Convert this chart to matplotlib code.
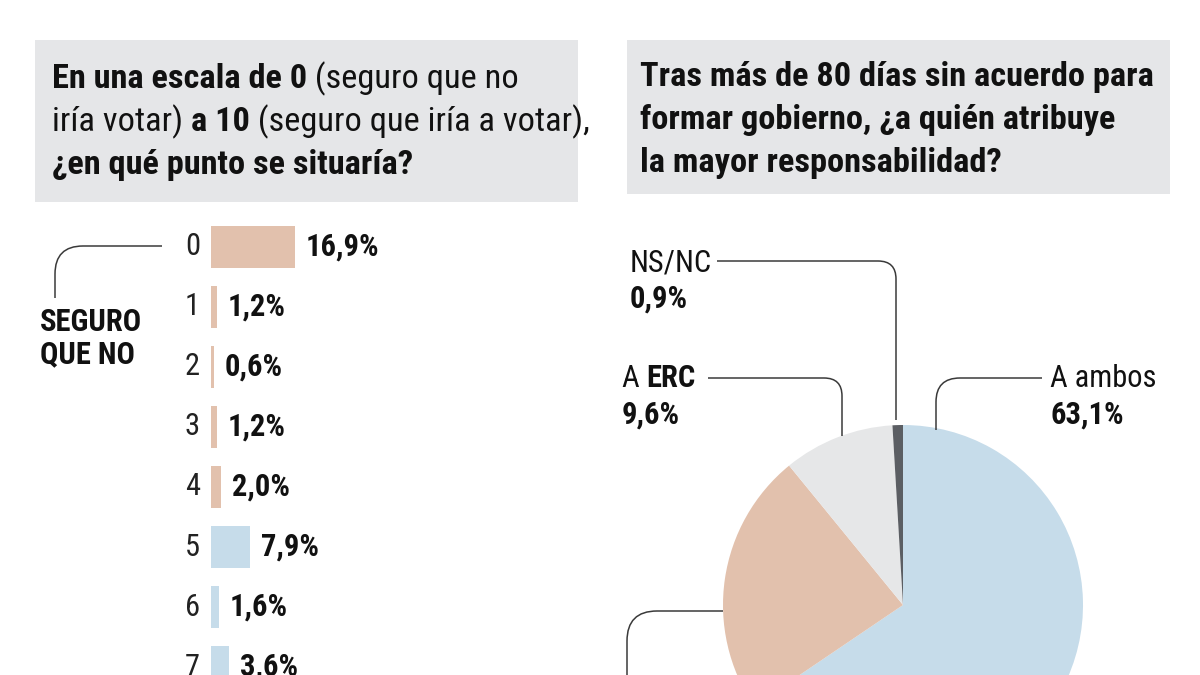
import matplotlib
matplotlib.use("Agg")
import matplotlib.pyplot as plt
from matplotlib import font_manager
from matplotlib.path import Path
from matplotlib.patches import PathPatch, Rectangle

# ---------------- data ----------------
scale_points = ["0", "1", "2", "3", "4", "5", "6", "7"]
scale_values = [16.9, 1.2, 0.6, 1.2, 2.0, 7.9, 1.6, 3.6]
scale_labels = ["16,9%", "1,2%", "0,6%", "1,2%", "2,0%", "7,9%", "1,6%", "3,6%"]

pie_categories = ["A ambos", "A Junts", "A ERC", "NS/NC"]
pie_values = [63.1, 22.7, 9.6, 0.9]
pie_labels = ["63,1%", "", "9,6%", "0,9%"]

title_left = [
    [("En una escala de 0", "bold"), (" (seguro que no", "normal")],
    [("iría votar) ", "normal"), ("a 10", "bold"), (" (seguro que iría a votar),", "normal")],
    [("¿en qué punto se situaría?", "bold")],
]
title_right = [
    [("Tras más de 80 días sin acuerdo para", "bold")],
    [("formar gobierno, ¿a quién atribuye", "bold")],
    [("la mayor responsabilidad?", "bold")],
]

# ---------------- style ----------------
SALMON = "#e2c1ad"
BLUE = "#c6dcea"
LGREY = "#e6e7e8"
DGREY = "#5b5e63"
BOXGREY = "#e5e6e8"
TXT = "#111111"
LINE = "#3a3a3a"

available = {f.name for f in font_manager.fontManager.ttflist}
FONT = "DejaVu Sans"
for cand in ["Roboto Condensed", "Open Sans Condensed", "Liberation Sans Narrow", "Lato", "Roboto"]:
    if cand in available:
        FONT = cand
        break
plt.rcParams["font.family"] = [FONT, "DejaVu Sans"]

W, H = 1200, 675
fig = plt.figure(figsize=(12, 6.75), dpi=100)
fig.patch.set_facecolor("white")

# overlay axes in pixel coordinates (y down)
ov = fig.add_axes([0, 0, 1, 1], zorder=5)
ov.set_xlim(0, W)
ov.set_ylim(H, 0)
ov.axis("off")
ov.patch.set_alpha(0)

# background boxes
bg = fig.add_axes([0, 0, 1, 1], zorder=0)
bg.set_xlim(0, W)
bg.set_ylim(H, 0)
bg.axis("off")
bg.add_patch(Rectangle((35, 40), 543, 162, color=BOXGREY, lw=0))
bg.add_patch(Rectangle((627, 40), 543, 154, color=BOXGREY, lw=0))

renderer = fig.canvas.get_renderer()

def fit(text, weight, target):
    t = ov.text(0, 0, text, fontsize=10, fontweight=weight)
    w = t.get_window_extent(renderer=renderer).width
    t.remove()
    return 10 * target / w

def rich_line(x, y, parts, size, color=TXT):
    for txt, weight in parts:
        t = ov.text(x, y, txt, fontsize=size, fontweight=weight, color=color,
                    ha="left", va="baseline")
        bb = t.get_window_extent(renderer=renderer)
        x += bb.width

TS = min(fit("Tras más de 80 días sin acuerdo para", "bold", 515), 26)
for i, parts in enumerate(title_left):
    rich_line(52, 88 + i * 43, parts, TS)
for i, parts in enumerate(title_right):
    rich_line(640, 86 + i * 43, parts, TS)

LS = min(fit("16,9%", "bold", 81), 22)

# ---------------- bar chart ----------------
px_per_unit = 4.95
row_px = 60.0
x0_px, row0_px = 211, 247
ax_w_px = 330
top_px = 200
bax = fig.add_axes([x0_px / W, 0, ax_w_px / W, (H - top_px) / H], zorder=2)
bax.set_xlim(0, ax_w_px / px_per_unit)
bax.set_ylim((H - row0_px) / row_px, -(row0_px - top_px) / row_px)
bax.axis("off")
ypos = list(range(len(scale_points)))
colors = [SALMON] * 5 + [BLUE] * (len(scale_points) - 5)
bax.barh(ypos, scale_values, height=0.7, color=colors, lw=0)
for y, v, lab, cat in zip(ypos, scale_values, scale_labels, scale_points):
    bax.annotate(cat, (0, y), xytext=(-8, 0), textcoords="offset points",
                 ha="right", va="center", fontsize=LS, color="#222222")
    bax.annotate(lab, (v, y), xytext=(8, 0), textcoords="offset points",
                 ha="left", va="center", fontsize=LS, fontweight="bold", color=TXT)

# ---------------- pie chart ----------------
pax = fig.add_axes([0, 0, 1, 1], zorder=1)
cy = H - 605
pax.pie(pie_values, colors=[BLUE, SALMON, LGREY, DGREY], startangle=90,
        counterclock=False, center=(903, cy), radius=180,
        wedgeprops=dict(linewidth=0))
pax.set_xlim(0, W)
pax.set_ylim(0, H)
pax.set_aspect("auto")
pax.axis("off")

# ---------------- leader lines ----------------
def leader(xh, yh, xc, yv, r):
    """horizontal from (xh,yh) to corner x=xc, then vertical to yv (pixel coords, y down)"""
    sx = 1 if xc > xh else -1
    sy = 1 if yv > yh else -1
    verts = [(xh, yh), (xc - sx * r, yh), (xc, yh), (xc, yh + sy * r), (xc, yv)]
    codes = [Path.MOVETO, Path.LINETO, Path.CURVE3, Path.CURVE3, Path.LINETO]
    ov.add_patch(PathPatch(Path(verts, codes), fill=False, ec=LINE, lw=1.1))

leader(162, 246, 55, 298, 28)     # seguro que no
leader(717, 261, 896, 420, 18)    # NS/NC
leader(708, 378, 842, 436, 18)    # A ERC
leader(1042, 378, 936, 430, 24)   # A ambos
leader(723, 611, 627, 680, 30)    # bottom-left slice

# ---------------- annotations ----------------
ov.text(40, 331, "SEGURO", fontsize=LS, fontweight="bold", color=TXT, va="baseline")
ov.text(40, 363, "QUE NO", fontsize=LS, fontweight="bold", color=TXT, va="baseline")

ov.text(630, 271, pie_categories[3], fontsize=LS, color=TXT, va="baseline")
ov.text(630, 308, pie_labels[3], fontsize=LS, fontweight="bold", color=TXT, va="baseline")

rich_line(622, 387, [("A ", "normal"), ("ERC", "bold")], LS)
ov.text(622, 424, pie_labels[2], fontsize=LS, fontweight="bold", color=TXT, va="baseline")

ov.text(1050, 387, pie_categories[0], fontsize=LS, color=TXT, va="baseline")
ov.text(1050, 424, pie_labels[0], fontsize=LS, fontweight="bold", color=TXT, va="baseline")

fig.savefig("out.png", dpi=100, facecolor="white")
